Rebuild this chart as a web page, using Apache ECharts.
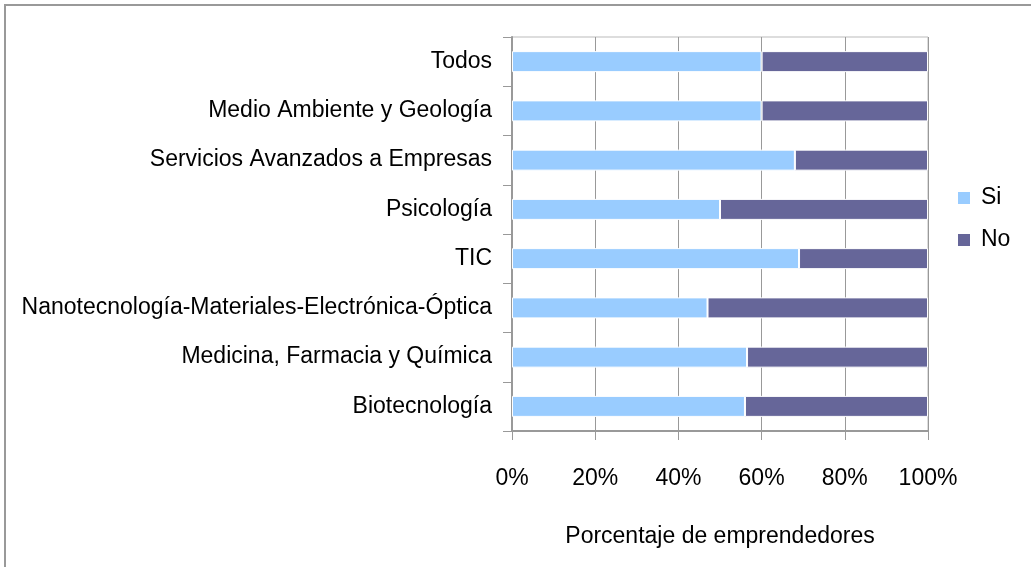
<!DOCTYPE html>
<html>
<head>
<meta charset="utf-8">
<script src="https://cdn.jsdelivr.net/npm/echarts@6/dist/echarts.min.js"></script>
<style>
  html, body { margin: 0; padding: 0; background: #fff; }
  #main { width: 1031px; height: 567px; }
</style>
</head>
<body>
<div id="main"></div>
<script>
// categories, from bottom to top as on the y axis
var categories = [
  'Biotecnología',
  'Medicina, Farmacia y Química',
  'Nanotecnología-Materiales-Electrónica-Óptica',
  'TIC',
  'Psicología',
  'Servicios Avanzados a Empresas',
  'Medio Ambiente y Geología',
  'Todos'
];
var siValues = [56, 56.5, 47, 69, 50, 68, 60, 60];
var noValues = [44, 43.5, 53, 31, 50, 32, 40, 40];
var xTicks = [0, 20, 40, 60, 80, 100];

var font = "'Liberation Sans', Arial, sans-serif";

var myChart = echarts.init(document.getElementById('main'));
myChart.setOption({
  animation: false,
  textStyle: { fontFamily: font },
  graphic: [{
    type: 'rect',
    shape: { x: 5, y: 5, width: 1100, height: 700 },
    style: { fill: 'none', stroke: '#999', lineWidth: 2 },
    silent: true
  }],
  grid: {
    left: 512, right: 103, top: 37, bottom: 136,
    outerBoundsMode: 'none',
    show: true, borderColor: '#bbb', borderWidth: 1
  },
  legend: {
    orient: 'vertical',
    left: 956,
    top: 185,
    padding: 0,
    itemWidth: 14,
    itemHeight: 14,
    itemGap: 16,
    icon: 'rect',
    data: ['Si', 'No'],
    textStyle: { fontSize: 23, color: '#000', fontFamily: font, padding: [0, 0, 0, 5], lineHeight: 26 }
  },
  xAxis: {
    type: 'value',
    min: 0,
    max: 100,
    interval: 20,
    name: 'Porcentaje de emprendedores',
    nameLocation: 'middle',
    nameGap: 94,
    nameTextStyle: { fontSize: 23, color: '#000', fontFamily: font },
    axisLine: { show: true, lineStyle: { color: '#999', width: 2 } },
    axisTick: { show: true, length: 9, lineStyle: { color: '#999' } },
    axisLabel: {
      margin: 36,
      fontSize: 23,
      color: '#000',
      formatter: function (v) { return xTicks.indexOf(v) >= 0 ? v + '%' : ''; }
    },
    splitLine: { show: true, lineStyle: { color: '#999', width: 1 } }
  },
  yAxis: {
    type: 'category',
    data: categories,
    axisLine: { show: true, lineStyle: { color: '#999', width: 2 } },
    axisTick: { show: true, length: 9, lineStyle: { color: '#999' } },
    axisLabel: { margin: 20, fontSize: 23, color: '#000' }
  },
  series: [{
    name: 'Si',
    type: 'bar',
    stack: 'total',
    barWidth: 21,
    data: siValues,
    itemStyle: { color: '#99CCFF', borderColor: '#fff', borderWidth: 1 }
  }, {
    name: 'No',
    type: 'bar',
    stack: 'total',
    barWidth: 21,
    data: noValues,
    itemStyle: { color: '#666699', borderColor: '#fff', borderWidth: 1 }
  }]
});
</script>
</body>
</html>
